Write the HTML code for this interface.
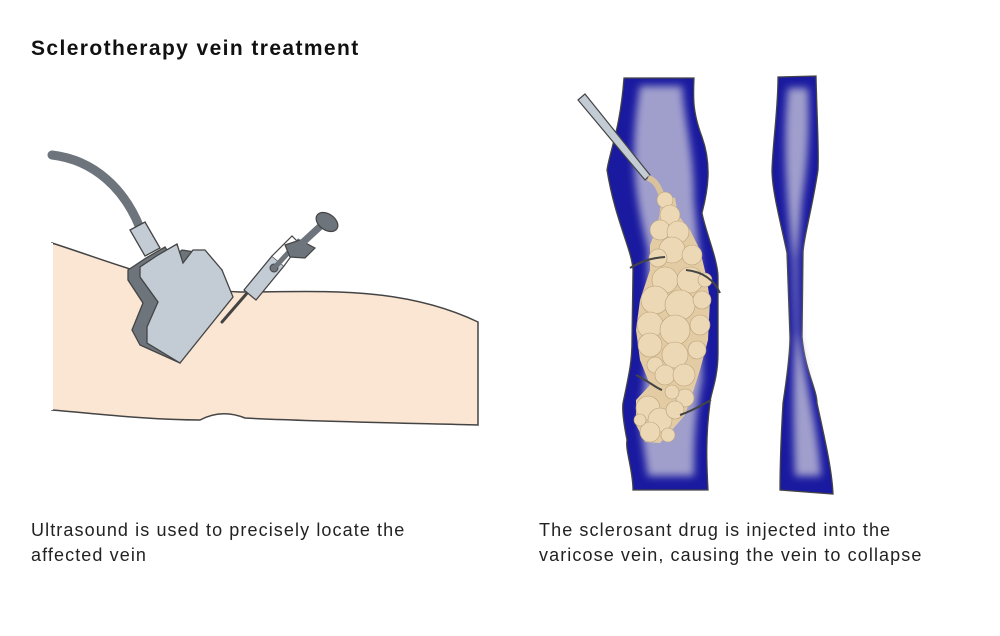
<!DOCTYPE html>
<html><head><meta charset="utf-8"><style>
body{margin:0;width:1000px;height:636px;background:#fff;overflow:hidden;font-family:"Liberation Sans",sans-serif;}
.t{position:absolute;left:31px;top:37px;font-size:21px;letter-spacing:1.4px;font-weight:bold;color:#111;}
.c{position:absolute;font-size:18px;letter-spacing:1.1px;line-height:25px;color:#222;}
</style></head><body>
<svg width="1000" height="636" style="position:absolute;left:0;top:0">
<defs><filter id="b" x="-50%" y="-20%" width="200%" height="140%"><feGaussianBlur stdDeviation="4"/></filter></defs>
<path d="M52,243 C120,265 180,290 240,292 C320,292 400,285 478,322 L478,425 C400,423 300,421 245,418 C230,412 215,412 200,420 C150,420 100,414 52,410 Z" fill="#fae6d2" stroke="#444" stroke-width="1.5"/>
<path d="M52,410 L52,243" stroke="#fff" stroke-width="2"/>
<path d="M52,155 C95,160 125,190 140,228" fill="none" stroke="#6d747b" stroke-width="9" stroke-linecap="round"/>
<path d="M130,230 L145,222 L160,248 L145,256 Z" fill="#c3ccd4" stroke="#444" stroke-width="1.3"/>
<path d="M128,270 L146,258 L165,247 L172,258 L182,250 L195,252 L222,270 L180,363 L140,345 L132,330 L143,303 L128,280 Z" fill="#6d747b" stroke="#444" stroke-width="1.3"/>
<path d="M140,267 L158,255 L177,244 L183,263 L193,250 L205,250 L222,270 L233,297 L180,363 L147,343 L147,327 L158,302 L140,277 Z" fill="#c3ccd4" stroke="#444" stroke-width="1.3"/>
<path d="M222,322 L248,292" stroke="#444" stroke-width="3" stroke-linecap="round"/>
<path d="M244,290 L272,256 L284,266 L256,300 Z" fill="#c3ccd4" stroke="#444" stroke-width="1.3" stroke-linejoin="round"/>
<path d="M272,256 L292,236 L300,244 L284,266" fill="#fff" stroke="#444" stroke-width="1.2"/>
<circle cx="274" cy="268" r="4" fill="#6d747b" stroke="#444"/>
<path d="M276,266 L300,240" stroke="#6d747b" stroke-width="5"/>
<path d="M285,245 L300,240 L315,248 L305,258 L290,257 Z" fill="#6d747b" stroke="#444" stroke-width="1.2"/>
<path d="M300,245 L325,222" stroke="#6d747b" stroke-width="7" stroke-linecap="round"/>
<ellipse cx="327" cy="222" rx="12" ry="8" transform="rotate(35 327 222)" fill="#6d747b" stroke="#444" stroke-width="1.2"/>
<path d="M624,78 L694,78 C693,100 693,113 702,137 C712,165 708,190 702,213 C705,230 718,260 718,277 L718,353 C718,380 710,395 710,403 C705,440 707,470 708,490 L633,490 C633,470 625,450 627,440 C623,420 622,410 623,403 C630,370 632,360 632,340 L633,270 C632,250 615,220 607,170 C610,150 620,130 624,78 Z" fill="#1a1aa0" stroke="#444" stroke-width="1.3"/>
<path d="M640,86 L682,86 C684,120 694,150 694,200 L702,280 L702,380 C694,420 694,450 694,476 L648,476 C643,440 638,420 643,400 L648,350 L648,250 C636,200 628,160 640,86 Z" fill="#a09fcc" filter="url(#b)"/>
<path d="M778,77 L816,76 C817,120 819,150 818,170 C812,210 803,240 803,253 L802,337 C805,370 817,390 817,403 C825,440 832,470 833,494 L780,490 C780,460 782,420 783,403 C788,370 790,350 790,337 L787,253 C780,220 772,190 772,170 C773,140 778,110 778,77 Z" fill="#1a1aa0" stroke="#444" stroke-width="1.3"/>
<path d="M788,88 L808,88 C810,130 808,160 802,200 L797,260 L798,330 C807,390 818,430 821,476 L795,476 C793,420 793,380 795,330 L793,260 C787,200 782,150 788,88 Z" fill="#a09fcc" filter="url(#b)"/>
<path d="M578,100 L585,94 L650,175 L645,180 Z" fill="#c3ccd4" stroke="#444" stroke-width="1.2"/>
<path d="M648,178 C655,180 660,188 662,198" stroke-width="6" stroke="#d9c29a" fill="none"/>
<path d="M662,195 L675,198 L678,215 L690,230 L700,250 L706,275 L710,300 L708,340 L700,370 L692,395 L685,415 L672,430 L660,443 L645,442 L636,425 L636,400 L650,385 L640,360 L636,330 L640,300 L650,270 L650,245 L658,225 Z" fill="#e3cba3"/>
<g fill="#ecd8b4" stroke="#b9a27c" stroke-width=".6">
<circle cx="665" cy="200" r="8"/><circle cx="670" cy="215" r="10"/><circle cx="660" cy="230" r="10"/><circle cx="678" cy="232" r="11"/>
<circle cx="672" cy="250" r="13"/><circle cx="692" cy="255" r="10"/><circle cx="658" cy="258" r="9"/>
<circle cx="665" cy="280" r="13"/><circle cx="690" cy="280" r="13"/><circle cx="705" cy="280" r="7"/><circle cx="655" cy="300" r="14"/><circle cx="680" cy="305" r="15"/><circle cx="702" cy="300" r="9"/>
<circle cx="650" cy="325" r="13"/><circle cx="675" cy="330" r="15"/><circle cx="700" cy="325" r="10"/>
<circle cx="650" cy="345" r="12"/><circle cx="675" cy="355" r="13"/><circle cx="697" cy="350" r="9"/><circle cx="655" cy="365" r="8"/>
<circle cx="665" cy="375" r="10"/><circle cx="684" cy="375" r="11"/><circle cx="685" cy="398" r="9"/><circle cx="672" cy="392" r="7"/>
<circle cx="648" cy="408" r="12"/><circle cx="660" cy="420" r="12"/><circle cx="675" cy="410" r="9"/><circle cx="650" cy="432" r="10"/><circle cx="668" cy="435" r="7"/><circle cx="640" cy="420" r="6"/>
</g>
<g fill="none" stroke="#444" stroke-width="2">
<path d="M630,268 C640,262 650,258 665,257"/><path d="M686,270 C705,272 715,282 720,293"/>
<path d="M636,375 C650,382 656,388 662,390"/><path d="M680,415 C695,410 705,403 711,400"/>
</g>
</svg>
<div class="t">Sclerotherapy vein treatment</div>
<div class="c" style="left:31px;top:518px">Ultrasound is used to precisely locate the<br>affected vein</div>
<div class="c" style="left:539px;top:518px">The sclerosant drug is injected into the<br>varicose vein, causing the vein to collapse</div>
</body></html>
